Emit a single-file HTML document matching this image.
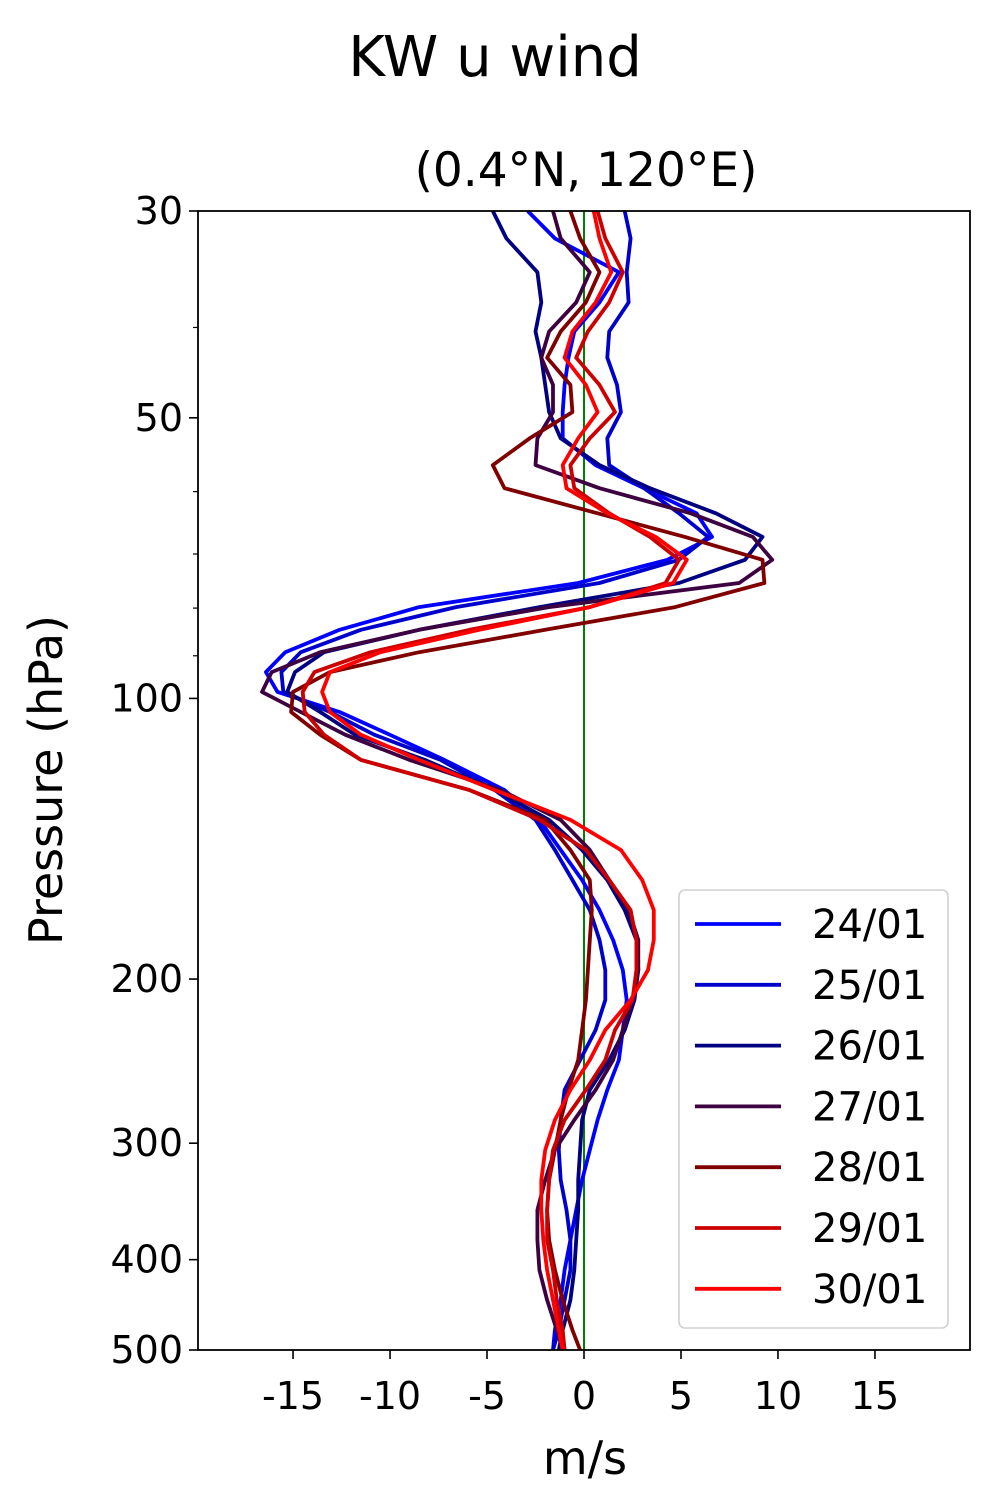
<!DOCTYPE html>
<html><head><meta charset="utf-8"><style>
html,body{margin:0;padding:0;background:#fff;}
svg{display:block;font-family:"DejaVu Sans","Liberation Sans",sans-serif;}
</style></head><body>
<svg id="chart" width="990" height="1500" viewBox="0 0 990 1500" xmlns="http://www.w3.org/2000/svg">
<rect width="990" height="1500" fill="#fff"/>
<text x="495" y="76" font-size="56" text-anchor="middle">KW u wind</text>
<text x="586" y="186" font-size="47" text-anchor="middle">(0.4°N, 120°E)</text>
<g id="plot"></g>
<rect x="198" y="211" width="772" height="1139" fill="none" stroke="#000" stroke-width="1.8"/>
<g id="axes"></g>
<text x="585" y="1474" font-size="46" text-anchor="middle">m/s</text>
<text transform="translate(62,780) rotate(-90)" font-size="46" text-anchor="middle">Pressure (hPa)</text>
<g id="legend"></g>
</svg>
<script>
const levels = [30,32.1,34.9,37.6,40.4,43.1,46.1,49.3,52.6,56.2,59.5,63.3,67.1,71.0,75.2,79.8,84.4,89.2,93.7,98.4,103.4,109.4,116.4,125.4,135,145.4,156.6,168.7,181.6,195.6,210.6,226.8,244.3,263,283.3,305.1,328.6,353.8,381,410.3,441.9,475.9,500];
const seriesNames = ["24/01","25/01","26/01","27/01","28/01","29/01","30/01"];
const u24 = [-2.9,-1.5,1.8,0.8,-0.5,-0.8,-1.0,-1.1,-1.1,0.6,3.1,5.8,6.6,4.3,-0.3,-8.5,-12.6,-15.4,-16.4,-15.8,-12.6,-10.0,-7.2,-4.1,-2.3,-1.2,-0.1,0.8,1.5,2.0,2.2,2.0,1.8,1.2,0.7,0.3,-0.1,-0.4,-0.7,-1.0,-1.2,-1.5,-1.6];
const u25 = [2.1,2.4,2.2,2.3,1.3,1.2,1.7,1.9,1.2,1.3,3.1,4.9,6.4,4.9,0.8,-6.6,-11.5,-14.6,-15.6,-15.5,-13.1,-10.8,-7.4,-4.6,-2.5,-1.5,-0.6,0.3,0.8,1.1,1.1,0.6,-0.2,-1.0,-1.2,-1.3,-1.2,-0.9,-0.7,-0.7,-1.0,-1.3,-1.6];
const u26 = [-4.7,-4.0,-2.4,-2.2,-2.5,-2.2,-2.0,-1.8,-1.2,0.8,3.4,6.8,9.2,8.3,4.9,-2.3,-8.5,-13.4,-14.9,-15.3,-13.6,-11.8,-8.2,-4.6,-1.8,-0.1,1.2,2.1,2.7,2.8,2.6,2.1,1.3,0.3,-0.1,-0.2,-0.3,-0.3,-0.4,-0.5,-0.7,-1.1,-1.3];
const u27 = [-1.6,-1.2,0.3,-0.4,-1.8,-2.2,-1.6,-1.6,-2.4,-2.5,0.8,5.5,8.7,9.7,8.0,-1.8,-8.5,-13.6,-16.1,-16.6,-14.6,-12.3,-9.0,-4.3,-1.2,0.3,1.3,2.3,2.8,2.8,2.5,2.0,1.5,0.6,-0.5,-1.5,-2.0,-2.4,-2.4,-2.3,-1.9,-1.4,-1.1];
const u28 = [-0.7,-0.2,0.8,0.1,-1.2,-1.9,-0.7,-0.6,-2.8,-4.7,-4.1,0.7,5.2,9.2,9.3,4.7,-2.0,-8.5,-13.1,-15.0,-15.1,-13.6,-11.5,-5.9,-2.0,-0.7,0.3,0.4,0.3,0.2,0.1,-0.1,-0.3,-0.8,-1.2,-1.5,-1.8,-1.9,-1.8,-1.5,-1.1,-0.6,-0.2];
const u29 = [0.7,1.1,2.0,1.3,0.2,-0.4,0.8,1.6,0.3,-0.7,-0.5,1.3,3.4,4.9,4.2,0.3,-5.9,-11.0,-13.9,-14.5,-14.4,-13.4,-11.5,-5.9,-2.3,0.1,1.3,2.4,2.7,2.7,2.5,1.6,1.1,0.1,-1.0,-1.6,-1.8,-1.9,-1.9,-1.6,-1.4,-1.1,-1.0];
const u30 = [0.5,0.8,1.4,0.6,-0.6,-1.0,0.1,0.7,-0.3,-1.1,-0.9,1.2,3.7,5.3,4.6,0.3,-5.4,-10.5,-13.1,-13.5,-13.1,-11.5,-8.5,-4.6,-0.7,1.9,3.0,3.6,3.6,3.3,2.4,1.1,0.3,-0.7,-1.5,-2.0,-2.2,-2.2,-2.1,-1.9,-1.6,-1.3,-1.1];
const seriesColors = ["#0000ff","#0000cc","#000080","#3d0040","#800000","#cc0000","#ff0000"];
const xTicks = [-15,-10,-5,0,5,10,15];
const yTicks = [30,50,100,200,300,400,500];
const yMinor = [40,60,70,80,90];

const NS = "http://www.w3.org/2000/svg";
const L = 198, R = 970, T = 211, B = 1350;
const xMin = -19.9, xMax = 19.9, pTop = 30, pBot = 500;
function xs(v){ return L + (v - xMin) / (xMax - xMin) * (R - L); }
function ys(p){ return T + Math.log(p / pTop) / Math.log(pBot / pTop) * (B - T); }
function mk(tag, attrs, parent){ const e = document.createElementNS(NS, tag); for (const k in attrs) e.setAttribute(k, attrs[k]); parent.appendChild(e); return e; }

const plot = document.getElementById('plot');
const allSeries = [u24,u25,u26,u27,u28,u29,u30];
const zl = mk('line', {x1: xs(0), x2: xs(0), y1: T, y2: B, stroke: "#008000", "stroke-width": 2}, plot);


allSeries.forEach((s, i) => {
  const pts = s.map((v, j) => xs(v).toFixed(1) + "," + ys(levels[j]).toFixed(1)).join(" ");
  const pl = mk('polyline', {points: pts, fill: "none", stroke: seriesColors[i], "stroke-width": 3.8, "stroke-linejoin": "round"}, plot);
  
  
});

const axes = document.getElementById('axes');
xTicks.forEach(t => {
  const ln = mk('line', {x1: xs(t), x2: xs(t), y1: B, y2: B + 9, stroke: "#000", "stroke-width": 1.6}, axes);
  
  
  const tx = mk('text', {x: xs(t), y: B + 59, "font-size": 38, "text-anchor": "middle"}, axes);
  tx.textContent = String(t);
  
  
});
yTicks.forEach(t => {
  const ln = mk('line', {x1: L - 9, x2: L, y1: ys(t), y2: ys(t), stroke: "#000", "stroke-width": 1.6}, axes);
  
  
  const tx = mk('text', {x: L - 15, y: ys(t) + 13, "font-size": 38, "text-anchor": "end"}, axes);
  tx.textContent = String(t);
  
  
});
yMinor.forEach(t => {
  const ln = mk('line', {x1: L - 5, x2: L, y1: ys(t), y2: ys(t), stroke: "#000", "stroke-width": 1.2}, axes);
  
  
});

const lg = document.getElementById('legend');
const box = mk('rect', {x: 679, y: 890, width: 269, height: 438, rx: 6, fill: "#fff", "fill-opacity": 0.85, stroke: "#d0d0d0", "stroke-width": 1.6}, lg);


seriesNames.forEach((n, i) => {
  const y = 924 + i * 60.8;
  const ln = mk('line', {x1: 695, x2: 781, y1: y, y2: y, stroke: seriesColors[i], "stroke-width": 3.8}, lg);
  
  
  const tx = mk('text', {x: 812, y: y + 14, "font-size": 40}, lg);
  tx.textContent = n;
  
  
});
</script>
</body></html>
